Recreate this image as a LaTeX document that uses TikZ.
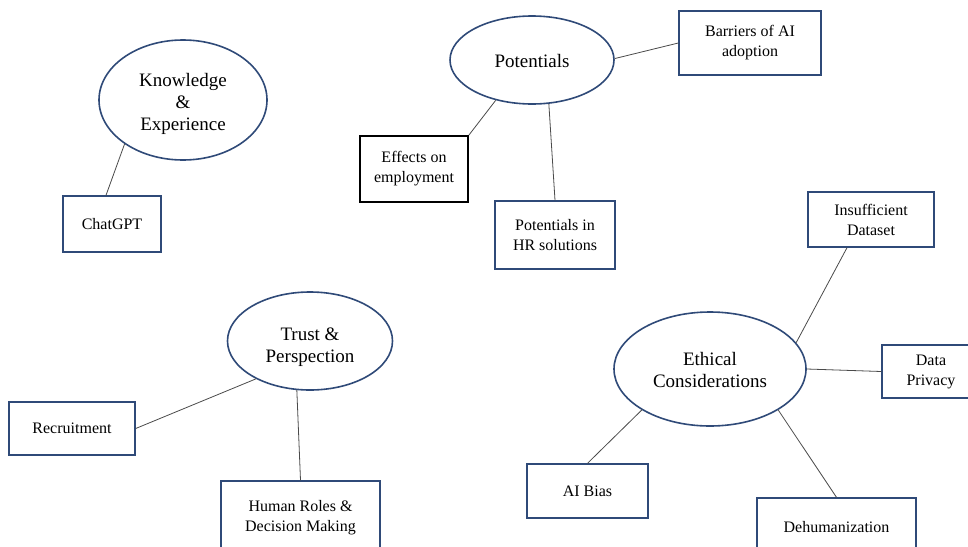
\documentclass[tikz,border=0pt]{standalone}
\usepackage{fontspec}
\setmainfont{Liberation Serif}
\usetikzlibrary{shapes.geometric}
\definecolor{navy}{HTML}{2F4A78}
\definecolor{conn}{HTML}{4A4A4A}
\begin{document}
\begin{tikzpicture}[x=1pt,y=-1pt,
  elli/.style={draw=navy, line width=1.6pt, ellipse, inner sep=0pt},
  etext/.style={align=center, font=\fontsize{19}{22}\selectfont, inner sep=0pt},
  box/.style={draw=navy, line width=1.4pt, rectangle, inner sep=0pt, align=center, font=\fontsize{16}{20}\selectfont},
  blackbox/.style={box, draw=black, line width=1.8pt},
  link/.style={draw=conn, line width=0.8pt}]
\useasboundingbox (0,0) rectangle (968,546);
\clip (0,0) rectangle (968,546);

% ellipses
\node[elli, minimum width=168pt, minimum height=120pt] (kn) at (183,100) {};
\node[etext] (knt) at ([yshift=-4pt]kn.center) {Knowledge\\\&\\Experience};
\node[elli, minimum width=164pt, minimum height=88pt] (pot) at (532,60) {};
\node[etext] (pott) at ([yshift=-1pt]pot.center) {Potentials};
\node[elli, minimum width=165pt, minimum height=98pt] (tr) at (310,341) {};
\node[etext] (trt) at ([yshift=-6pt]tr.center) {Trust \&\\Perspection};
\node[elli, minimum width=192pt, minimum height=114pt] (eth) at (710,369) {};
\node[etext] (etht) at ([yshift=-1pt]eth.center) {Ethical\\Considerations};

% boxes
\node[box, minimum width=98pt, minimum height=56pt] (chat) at (112,224) {ChatGPT};
\node[box, minimum width=142pt, minimum height=64pt] (bar) at (750,43) {Barriers of AI\\adoption};
\node[blackbox, minimum width=108pt, minimum height=66pt] (eff) at (414,169) {Effects on\\employment};
\node[box, minimum width=120pt, minimum height=68pt] (phr) at (555,235) {Potentials in\\HR solutions};
\node[box, minimum width=126pt, minimum height=53pt] (rec) at (72,428.5) {Recruitment};
\node[box, minimum width=159pt, minimum height=74pt] (hum) at (300.5,518) {Human Roles \&\\Decision Making};
\node[box, minimum width=126pt, minimum height=55pt] (ins) at (871,219.5) {Insufficient\\Dataset};
\node[box, minimum width=98pt, minimum height=53pt] (dp) at (931,371.5) {Data\\Privacy};
\node[box, minimum width=121pt, minimum height=54pt] (aib) at (587.5,491) {AI Bias};
\node[box, minimum width=159pt, minimum height=58pt] (deh) at (836.5,527) {Dehumanization};

% connectors
\draw[link] (kn.217) -- ([xshift=-6pt]chat.north);
\draw[link] (pot.1) -- (bar.west);
\draw[link] (pot.228) -- (eff.north east);
\draw[link] (pot.291) -- (phr.north);
\draw[link] (tr.215) -- (rec.east);
\draw[link] (tr.255) -- (hum.north);
\draw[link] (eth.17) -- ([xshift=-24pt]ins.south);
\draw[link] (eth.0) -- (dp.west);
\draw[link] (eth.211) -- (aib.north);
\draw[link] (eth.329.5) -- (deh.north);
\end{tikzpicture}
\end{document}
